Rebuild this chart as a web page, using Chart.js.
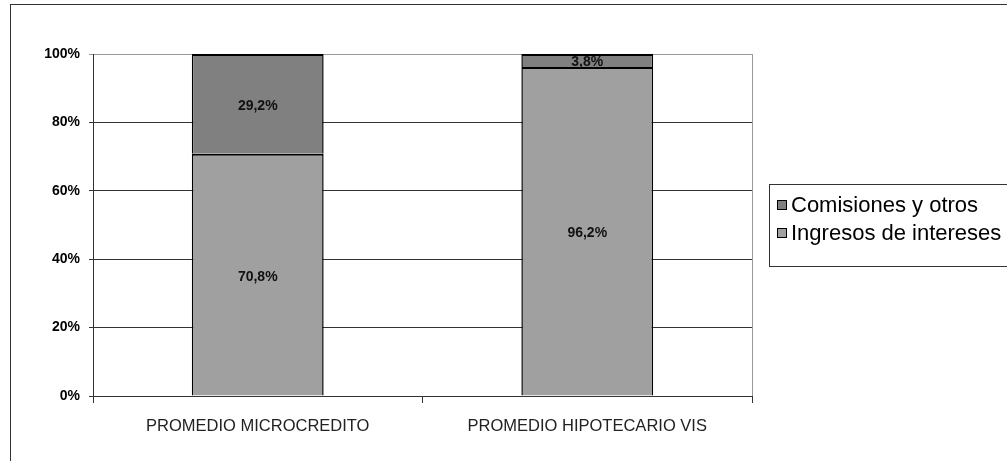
<!DOCTYPE html>
<html>
<head>
<meta charset="utf-8">
<script src="https://cdn.jsdelivr.net/npm/chart.js@4"></script>
<style>
  html, body { margin: 0; padding: 0; background: #fff; overflow: hidden; }
  #stage { position: relative; width: 1007px; height: 461px; overflow: hidden; }
  #frame { position: absolute; left: 10px; top: 4px; width: 1100px; height: 600px;
           border: 1px solid #333; box-sizing: border-box; }
  #chart { position: absolute; left: 0; top: 0; }
</style>
</head>
<body>
<div id="stage">
  <div id="frame"></div>
  <canvas id="chart" width="1007" height="461"></canvas>
</div>
<script>
// Income composition by product, in percent of total income
const categories = ['PROMEDIO MICROCREDITO', 'PROMEDIO HIPOTECARIO VIS'];
const interestIncome = [70.8, 96.2];
const feesAndOther = [29.2, 3.8];
const yTicks = [0, 20, 40, 60, 80, 100];

const seriesNames = ['Ingresos de intereses', 'Comisiones y otros'];
const seriesColors = ['#a0a0a0', '#808080'];

const fmtPct = v => v.toFixed(1).replace('.', ',') + '%';

// Value labels centred in each stacked segment
const segmentLabels = {
  id: 'segmentLabels',
  afterDatasetsDraw(chart) {
    const ctx = chart.ctx;
    ctx.save();
    ctx.font = 'bold 14px "Liberation Sans", Arial, sans-serif';
    ctx.fillStyle = '#111';
    ctx.textAlign = 'center';
    ctx.textBaseline = 'middle';
    chart.data.datasets.forEach((ds, di) => {
      chart.getDatasetMeta(di).data.forEach((bar, i) => {
        const cy = (bar.y + bar.base) / 2;
        ctx.fillText(fmtPct(ds.data[i]), bar.x, cy + 2);
      });
    });
    ctx.restore();
  }
};

// Grey plot-area border on the right side
const plotFrame = {
  id: 'plotFrame',
  beforeDatasetsDraw(chart) {
    const { ctx, chartArea: a } = chart;
    ctx.save();
    ctx.strokeStyle = '#999';
    ctx.lineWidth = 1;
    ctx.beginPath();
    ctx.moveTo(Math.round(a.right) + 0.5, a.top);
    ctx.lineTo(Math.round(a.right) + 0.5, a.bottom);
    ctx.stroke();
    ctx.restore();
  }
};

// Boxed legend to the right of the plot, listed top series first
const boxedLegend = {
  id: 'boxedLegend',
  afterDraw(chart) {
    const { ctx, chartArea: a } = chart;
    const left = Math.round(a.right) + 17;
    const top = 184, width = 240, rowH = 28;
    const items = chart.data.datasets.map(d => ({ label: d.label, color: d.backgroundColor })).reverse();
    const height = items.length * rowH + 26;
    ctx.save();
    ctx.strokeStyle = '#333';
    ctx.lineWidth = 1;
    ctx.strokeRect(left + 0.5, top + 0.5, width, height);
    ctx.font = '22px "Liberation Sans", Arial, sans-serif';
    ctx.textBaseline = 'middle';
    ctx.fillStyle = '#000';
    items.forEach((it, i) => {
      const cy = top + 21 + i * rowH;
      ctx.fillStyle = it.color;
      ctx.fillRect(left + 8, cy - 5, 10, 10);
      ctx.strokeStyle = '#000';
      ctx.strokeRect(left + 8.5, cy - 4.5, 9, 9);
      ctx.fillStyle = '#000';
      ctx.fillText(it.label, left + 22, cy + 1);
    });
    ctx.restore();
  }
};

new Chart(document.getElementById('chart'), {
  type: 'bar',
  data: {
    labels: categories,
    datasets: [
      { label: seriesNames[0], data: interestIncome, backgroundColor: seriesColors[0],
        borderColor: '#000', borderWidth: { top: 2, left: 1.5, right: 1.5, bottom: 0 },
        borderSkipped: false, inflateAmount: 0 },
      { label: seriesNames[1], data: feesAndOther, backgroundColor: seriesColors[1],
        borderColor: '#000', borderWidth: { top: 2, left: 1.5, right: 1.5, bottom: 0 },
        borderSkipped: false, inflateAmount: 0 }
    ]
  },
  options: {
    responsive: false,
    animation: false,
    categoryPercentage: 1,
    barPercentage: 0.4,
    layout: { padding: { top: 54, right: 255, left: 0, bottom: 0 } },
    plugins: { legend: { display: false }, tooltip: { enabled: false } },
    scales: {
      x: {
        stacked: true,
        afterFit(s) { s.height = 65; },
        grid: { drawOnChartArea: false, drawTicks: true, tickLength: 7, color: '#333', offset: true },
        border: { color: '#333', width: 1 },
        ticks: { color: '#222', padding: 14,
                 font: { family: '"Liberation Sans", Arial, sans-serif', size: 16.5 } }
      },
      y: {
        stacked: true,
        min: 0, max: 100,
        afterFit(s) { s.width = 93; },
        afterBuildTicks(s) { s.ticks = yTicks.map(v => ({ value: v })); },
        grid: { color: c => (c.tick && c.tick.value === 100 ? '#999' : '#333'),
                tickLength: 4, drawTicks: true },
        border: { color: '#333', width: 1 },
        ticks: { color: '#000', padding: 9, callback: v => v + '%',
                 font: { family: '"Liberation Sans", Arial, sans-serif', size: 14, weight: 'bold' } }
      }
    }
  },
  plugins: [plotFrame, segmentLabels, boxedLegend]
});
</script>
</body>
</html>
